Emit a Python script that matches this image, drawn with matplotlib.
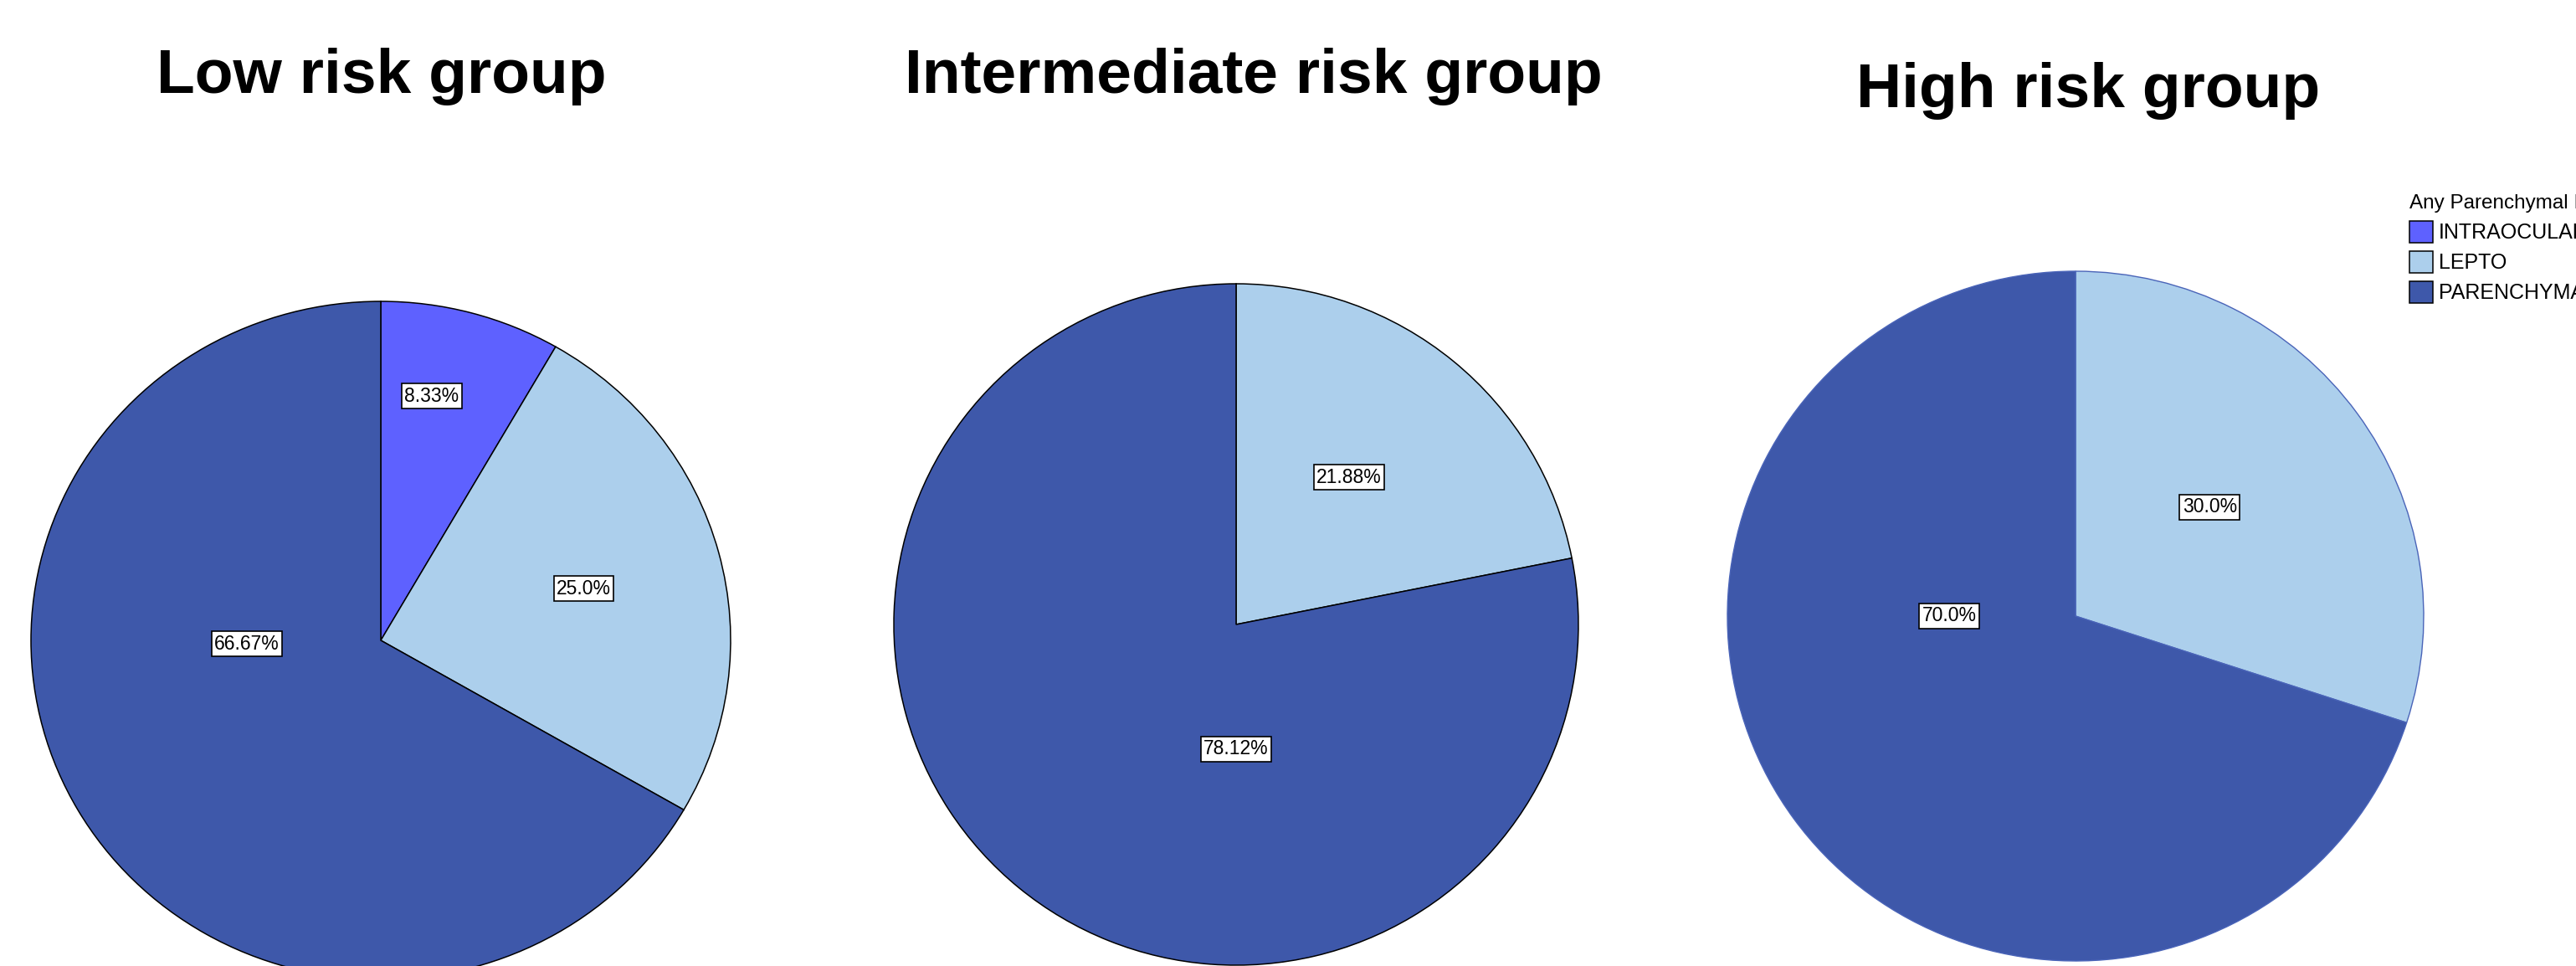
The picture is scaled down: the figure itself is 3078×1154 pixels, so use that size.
import matplotlib.pyplot as plt

W, H = 3078, 1154

categories = ["INTRAOCULAR", "LEPTO", "PARENCHYMAL"]
colors = ["#5e61ff", "#accfec", "#3e58aa"]

titles = ["Low risk group", "Intermediate risk group", "High risk group"]
low_vals = [8.33, 25.0, 66.67]
inter_vals = [0.0, 21.88, 78.12]
high_vals = [0.0, 30.0, 70.0]
low_labels = ["8.33%", "25.0%", "66.67%"]
inter_labels = ["", "21.88%", "78.12%"]
high_labels = ["", "30.0%", "70.0%"]

# layout (pixels): center x, center y, radius x, radius y
pie_boxes = [(455, 765, 418, 405), (1477, 746, 409, 407), (2480, 736, 416, 412)]
title_pos = [(456, 111), (1498, 111), (2495, 128)]
# label offsets as fraction of radius, one per non-zero slice
label_offsets = [[(0.146, 0.72), (0.58, 0.153), (-0.383, -0.01)],
                 [(0.33, 0.432), (0.0, -0.366)],
                 [(0.385, 0.316), (-0.363, 0.0)]]
edge_styles = [("black", 1.1), ("black", 1.1), ("#4a64b8", 1.0)]

font = "Liberation Sans"

fig = plt.figure(figsize=(W / 100, H / 100), dpi=100)

all_vals = [low_vals, inter_vals, high_vals]
all_labels = [low_labels, inter_labels, high_labels]
legend_handles = None

for i, (vals, labs) in enumerate(zip(all_vals, all_labels)):
    cx, cy, rx, ry = pie_boxes[i]
    ax = fig.add_axes([(cx - rx) / W, (H - cy - ry) / H, 2 * rx / W, 2 * ry / H])
    keep = [j for j, v in enumerate(vals) if v > 0]
    ec, lw = edge_styles[i]
    wedges, _ = ax.pie([vals[j] for j in keep], colors=[colors[j] for j in keep],
                       startangle=90, counterclock=False, radius=1,
                       wedgeprops=dict(edgecolor=ec, linewidth=lw))
    ax.set_aspect("auto")
    ax.set_xlim(-1, 1)
    ax.set_ylim(-1, 1)
    ax.axis("off")
    for k, j in enumerate(keep):
        dx, dy = label_offsets[i][k]
        ax.text(dx, dy, labs[j], ha="center", va="center", fontsize=16.5,
                family=font,
                bbox=dict(boxstyle="square,pad=0.15", fc="white", ec="black", lw=1.2))
    if i == 0:
        legend_handles = wedges
    tx, ty = title_pos[i]
    fig.text(tx / W, 1 - ty / H, titles[i], ha="center", va="baseline",
             fontsize=54, fontweight="bold", family=font)

fig.legend(legend_handles, categories, loc="upper left",
           bbox_to_anchor=(2879 / W, 1 - 232 / H), bbox_transform=fig.transFigure,
           frameon=False, borderpad=0, borderaxespad=0,
           title="Any Parenchymal Involvement", alignment="left",
           prop=dict(family=font, size=18),
           title_fontproperties=dict(family=font, size=17.5),
           handlelength=1.12, handleheight=1.24, handletextpad=0.28, labelspacing=0.38)

fig.savefig("out.png", dpi=100, facecolor="white")
